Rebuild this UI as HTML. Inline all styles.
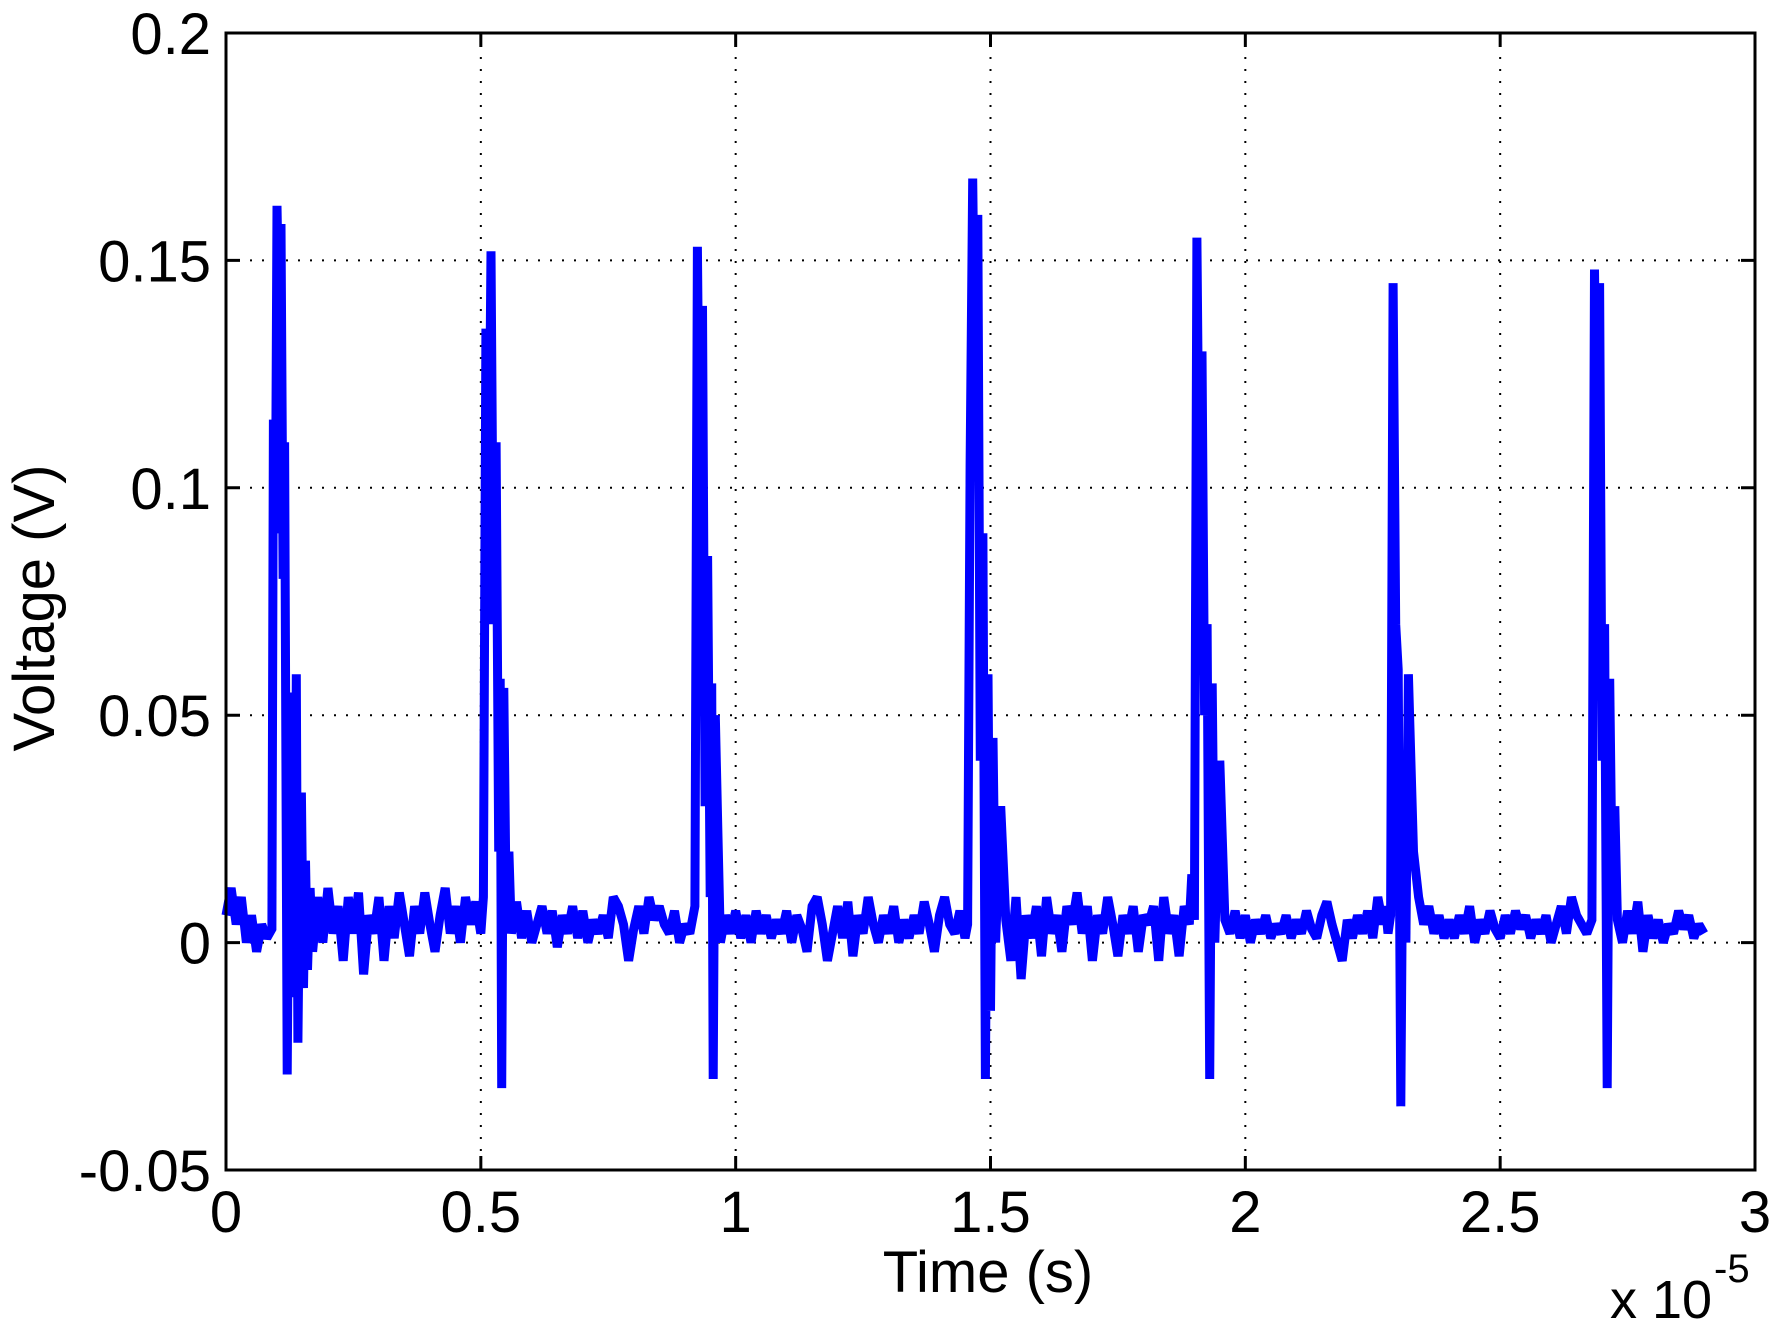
<!DOCTYPE html>
<html><head><meta charset="utf-8"><style>
html,body{margin:0;padding:0;background:#fff;}
svg{display:block;font-family:"Liberation Sans",Arial,sans-serif;}
</style></head><body>
<svg id="chart" width="1776" height="1325" viewBox="0 0 1776 1325" xmlns="http://www.w3.org/2000/svg">
<rect width="1776" height="1325" fill="#fff"/>
<g id="grid"></g>
<g id="series"></g>
<g id="axes"></g>
<text x="988" y="1292" font-size="58" text-anchor="middle">Time (s)</text>
<text transform="translate(54,608) rotate(-90)" font-size="58" text-anchor="middle">Voltage (V)</text>
<text x="1610" y="1318" font-size="54">x 10</text>
<text x="1714" y="1282" font-size="40">-5</text>
</svg>
<script>
const xTicks=[0,0.5,1,1.5,2,2.5,3];
const xTickLabels=["0","0.5","1","1.5","2","2.5","3"];
const yTicks=[-0.05,0,0.05,0.1,0.15,0.2];
const yTickLabels=["-0.05","0","0.05","0.1","0.15","0.2"];
const times=[0,.01,.02,.03,.04,.05,.06,.07,.08,.09,.093,.097,.1,.105,.108,.112,.115,.118,.12,.125,.128,.132,.135,.138,.141,.145,.148,.152,.156,.16,.165,.17,.18,.19,.2,.21,.22,.23,.24,.25,.26,.27,.28,.29,.3,.31,.32,.33,.34,.35,.36,.37,.38,.39,.4,.41,.42,.43,.44,.45,.46,.47,.48,.49,.5,.505,.51,.515,.52,.525,.53,.535,.538,.541,.545,.55,.555,.56,.57,.58,.59,.6,.62,.63,.64,.65,.66,.67,.68,.69,.7,.71,.72,.73,.74,.75,.76,.77,.78,.79,.8,.81,.82,.83,.84,.85,.86,.87,.88,.89,.9,.91,.92,.925,.93,.935,.94,.945,.95,.953,.956,.96,.965,.97,.98,.99,1,1.01,1.02,1.03,1.04,1.05,1.06,1.07,1.08,1.09,1.1,1.11,1.12,1.13,1.14,1.15,1.16,1.17,1.18,1.19,1.2,1.21,1.22,1.23,1.24,1.25,1.26,1.27,1.28,1.29,1.3,1.31,1.32,1.33,1.34,1.35,1.36,1.37,1.38,1.39,1.4,1.41,1.42,1.43,1.44,1.45,1.455,1.46,1.465,1.47,1.475,1.48,1.485,1.49,1.495,1.5,1.505,1.51,1.52,1.53,1.54,1.55,1.56,1.57,1.58,1.59,1.6,1.61,1.62,1.63,1.64,1.65,1.66,1.67,1.68,1.69,1.7,1.71,1.72,1.73,1.74,1.75,1.76,1.77,1.78,1.79,1.8,1.81,1.82,1.83,1.84,1.85,1.86,1.87,1.88,1.89,1.895,1.9,1.905,1.91,1.915,1.92,1.925,1.93,1.935,1.94,1.95,1.96,1.97,1.98,1.99,2,2.01,2.02,2.03,2.04,2.05,2.06,2.07,2.08,2.09,2.1,2.11,2.12,2.13,2.14,2.15,2.16,2.17,2.18,2.19,2.2,2.21,2.22,2.23,2.24,2.25,2.26,2.27,2.275,2.28,2.285,2.29,2.295,2.3,2.305,2.31,2.315,2.32,2.33,2.34,2.35,2.36,2.37,2.38,2.39,2.4,2.41,2.42,2.43,2.44,2.45,2.46,2.47,2.48,2.49,2.5,2.51,2.52,2.53,2.54,2.55,2.56,2.57,2.58,2.59,2.6,2.61,2.62,2.63,2.64,2.65,2.66,2.67,2.68,2.685,2.69,2.695,2.7,2.705,2.71,2.715,2.72,2.725,2.73,2.74,2.75,2.76,2.77,2.78,2.79,2.8,2.81,2.82,2.83,2.84,2.85,2.86,2.87,2.88,2.89,2.9,2.91];
const volts=[.006,.012,.004,.010,.000,.006,-.002,.004,.001,.003,.115,.09,.162,.13,.158,.08,.11,.03,-.029,.05,.02,.055,-.012,.059,-.022,.02,.033,-.01,.018,-.006,.012,-.002,.010,0,.012,.002,.008,-.004,.010,.002,.011,-.007,.006,.002,.010,-.004,.008,.001,.011,.004,-.003,.008,.002,.011,.004,-.002,.006,.012,.002,.008,.000,.010,.004,.009,.002,.010,.135,.09,.152,.07,.11,.02,.058,-.032,.056,.005,.02,.002,.009,.001,.007,.000,.008,.002,.007,-.001,.006,.002,.008,.001,.007,.000,.005,.002,.006,.001,.010,.008,.004,-.004,.003,.008,.002,.010,.005,.008,.004,.002,.007,0,.004,.002,.008,.153,.09,.14,.03,.085,.01,.057,-.03,.05,.025,.00,.006,.002,.007,.001,.006,.000,.007,.002,.006,.001,.005,.002,.007,.000,.006,.003,-.002,.008,.010,.004,-.004,.002,.008,.001,.009,-.003,.006,.002,.010,.004,.000,.006,.002,.008,.000,.005,.001,.006,.002,.009,.004,-.002,.006,.010,.004,.002,.007,.001,.004,.105,.168,.12,.16,.04,.09,-.03,.059,-.015,.045,.00,.03,.005,-.004,.010,-.008,.006,.001,.008,-.003,.010,.002,.006,-.002,.008,.004,.011,.002,.008,-.004,.006,.002,.010,.004,-.003,.006,.002,.008,-.002,.006,.004,.008,-.004,.010,.002,.006,-.003,.008,.004,.015,.005,.155,.09,.13,.05,.07,-.03,.057,.00,.04,.005,.002,.007,.001,.006,.000,.005,.002,.006,.001,.004,.002,.006,.001,.005,.002,.007,.003,.001,.006,.009,.004,.000,-.004,.005,.001,.006,.002,.007,.001,.010,.004,.008,.002,.006,.145,.07,.06,-.036,.04,.00,.059,.02,.01,.004,.008,.002,.006,.001,.005,.001,.006,.002,.008,.000,.005,.002,.007,.003,.001,.006,.002,.007,.003,.006,.001,.005,.002,.006,.000,.004,.008,.002,.010,.006,.004,.002,.005,.148,.10,.145,.04,.07,-.032,.058,.01,.03,.005,.000,.007,.002,.009,-.002,.006,.001,.005,.000,.004,.002,.007,.003,.006,.001,.004,.002];
const L=226,R=1755,T=33,B=1170;
function xs(v){return L+(v-0)/(3-0)*(R-L);}
function ys(v){return B-(v+0.05)/(0.25)*(B-T);}
const NS="http://www.w3.org/2000/svg";
function mk(tag,attrs,parent){const e=document.createElementNS(NS,tag);for(const k in attrs)e.setAttribute(k,attrs[k]);parent.appendChild(e);return e;}
const grid=document.getElementById('grid'),axes=document.getElementById('axes'),series=document.getElementById('series');
xTicks.forEach((t,i)=>{
  const x=xs(t);
  if(i>0&&i<xTicks.length-1){
    const g=mk('line',{x1:x,y1:T,x2:x,y2:B,stroke:'#000','stroke-width':2,'stroke-dasharray':'2 10'},grid);
    
    
  }
  const tk=mk('path',{d:`M${x},${B}V${B-14}M${x},${T}V${T+14}`,stroke:'#000','stroke-width':3},axes);
  
  
  const lb=mk('text',{x:x,y:1232,'font-size':58,'text-anchor':'middle'},axes);
  lb.textContent=xTickLabels[i];
  
  
});
yTicks.forEach((t,i)=>{
  const y=ys(t);
  if(i>0&&i<yTicks.length-1){
    const g=mk('line',{x1:L,y1:y,x2:R,y2:y,stroke:'#000','stroke-width':2,'stroke-dasharray':'2 10'},grid);
    
    
  }
  const tk=mk('path',{d:`M${L},${y}H${L+14}M${R},${y}H${R-14}`,stroke:'#000','stroke-width':3},axes);
  
  
  const lb=mk('text',{x:211,y:y+21,'font-size':58,'text-anchor':'end'},axes);
  lb.textContent=yTickLabels[i];
  
  
});
const box=mk('rect',{x:L,y:T,width:R-L,height:B-T,fill:'none',stroke:'#000','stroke-width':3},axes);


const d=times.map((t,i)=>(i?'L':'M')+xs(t).toFixed(1)+','+ys(volts[i]).toFixed(1)).join('');
const line=mk('path',{d:d,fill:'none',stroke:'#0000ff','stroke-width':9,'stroke-linejoin':'miter','stroke-miterlimit':2},series);


</script>
</body></html>
